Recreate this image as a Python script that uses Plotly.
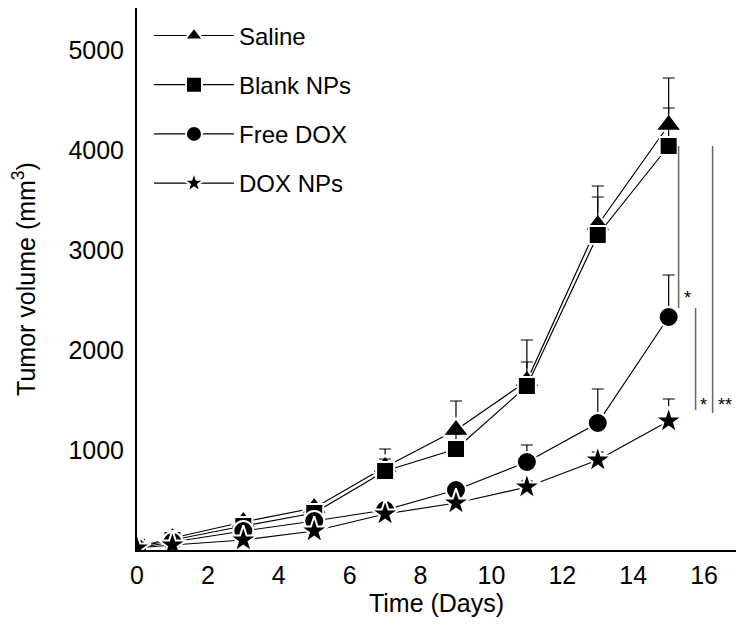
import plotly.graph_objects as go

days = [0, 1, 3, 5, 7, 9, 11, 13, 15]
series_names = ["Saline", "Blank NPs", "Free DOX", "DOX NPs"]
saline = [30, 120, 280, 420, 830, 1200, 1690, 3250, 4250]
saline_err = [0, 40, 40, 60, 180, 290, 410, 390, 470]
blank = [30, 100, 240, 370, 790, 1010, 1640, 3150, 4040]
blank_err = [0, 30, 40, 50, 120, 150, 240, 380, 380]
free_dox = [20, 80, 190, 290, 400, 600, 880, 1270, 2330]
free_err = [0, 20, 30, 40, 50, 70, 170, 340, 420]
dox_nps = [20, 50, 100, 190, 360, 470, 630, 900, 1290]
dox_err = [0, 10, 20, 30, 40, 50, 60, 80, 220]

x_ticks = [0, 2, 4, 6, 8, 10, 12, 14, 16]
y_ticks = [1000, 2000, 3000, 4000, 5000]

symbols = ["triangle-up", "square", "circle", "star"]
sizes = [23, 18, 20, 21]
values = [saline, blank, free_dox, dox_nps]
errors = [saline_err, blank_err, free_err, dox_err]

FONT = "Liberation Sans, Arial, Helvetica, sans-serif"

fig = go.Figure()
for i, name in enumerate(series_names):
    fig.add_trace(go.Scatter(
        x=days, y=values[i], name=name, mode="lines+markers",
        legendgroup=name,
        line=dict(color="black", width=1.2),
        marker=dict(symbol=symbols[i], size=sizes[i], color="black",
                    line=dict(color="white", width=2)),
        error_y=dict(type="data", symmetric=False, array=errors[i],
                     arrayminus=[0] * len(days), color="black",
                     thickness=1.2, width=6),
    ))

# significance brackets at day 15
last = len(days) - 1
brackets = [
    (15.28, blank[last], free_dox[last] + 90, "*", 15.54, free_dox[last] + 190),
    (15.76, free_dox[last] + 90, dox_nps[last] + 110, "*", 15.98, dox_nps[last] + 160),
    (16.24, blank[last], dox_nps[last] + 80, "**", 16.58, dox_nps[last] + 160),
]
for bx, y0, y1, txt, tx, ty in brackets:
    fig.add_shape(type="line", x0=bx, x1=bx, y0=y0, y1=y1,
                  line=dict(color="#666666", width=1.5))
    fig.add_annotation(x=tx, y=ty, text=txt, showarrow=False,
                       font=dict(size=18, color="black", family=FONT))

fig.update_layout(
    width=744, height=626,
    margin=dict(l=129, r=16, t=0, b=84),
    paper_bgcolor="white", plot_bgcolor="white",
    font=dict(family=FONT, size=25, color="black"),
    showlegend=True,
    legend=dict(x=0.02, y=0.99, xanchor="left", yanchor="top",
                bgcolor="rgba(0,0,0,0)", font=dict(size=24),
                tracegroupgap=15, itemwidth=80),
    xaxis=dict(range=[0, 16.9], tickvals=x_ticks, showgrid=False,
               zeroline=False, showline=True, linecolor="black",
               linewidth=2, mirror=True, ticks="", ticklabelstandoff=2,
               automargin=False,
               title=dict(text="Time (Days)", standoff=0,
                          font=dict(size=25))),
    yaxis=dict(range=[0, 5420], tickvals=y_ticks, showgrid=False,
               zeroline=False, showline=True, linecolor="black",
               linewidth=2, mirror=True, ticks="", ticklabelstandoff=6,
               automargin=False,
               title=dict(text="Tumor volume (mm<sup>3</sup>)", standoff=36,
                          font=dict(size=25))),
)

fig.write_html("out.html")
